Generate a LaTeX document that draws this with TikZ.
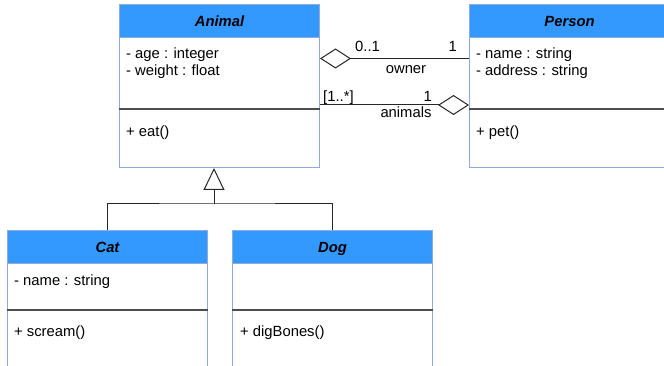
\documentclass[tikz,border=0pt]{standalone}
\usepackage{fontspec}
\setmainfont{Liberation Sans}
\usetikzlibrary{arrows.meta}
\definecolor{hdr}{HTML}{3399FF}
\definecolor{edge}{HTML}{8FAADC}
\definecolor{rulec}{HTML}{4D4D4D}
\begin{document}
\begin{tikzpicture}[x=1pt,y=-1pt,
  font=\fontsize{14.8}{18}\selectfont,
  classbox/.style={draw=edge, fill=white, line width=1pt, minimum width=200pt,
    minimum height=163pt, anchor=north west, inner sep=0pt},
  header/.style={draw=edge, fill=hdr, line width=1pt, minimum width=200pt,
    minimum height=33pt, anchor=north west, inner sep=0pt,
    text height=10.6pt, text depth=0pt,
    font=\fontsize{14.8}{18}\selectfont\bfseries\itshape},
  member/.style={anchor=base west, inner sep=0pt},
  sepline/.style={draw=rulec, line width=1.3pt},
  assoc/.style={draw=black!85, line width=1pt},
  lbl/.style={inner sep=0pt},
  aggr/.style={-{Diamond[open,length=31pt,width=20pt]}},
  gen/.style={-{Triangle[open,length=22pt,width=21pt]}}
]
\useasboundingbox (0,0) rectangle (664,366);
\clip (0,0) rectangle (664,366);

% Animal
\node[classbox] (animal) at (119,4) {};
\node[header] (animalH) at (animal.north west) {Animal};
\draw[sepline] (animal.west |- 0,109) -- (animal.east |- 0,109);
\node[member] (animalA1) at (126,58.5) {- age : integer};
\node[member] (animalA2) at (126,76) {- weight : float};
\node[member] (animalM1) at (126,137) {+ eat()};

% Person
\node[classbox] (person) at (469,4) {};
\node[header] (personH) at (person.north west) {Person};
\draw[sepline] (person.west |- 0,109) -- (person.east |- 0,109);
\node[member] (personA1) at (476,58.5) {- name : string};
\node[member] (personA2) at (476,76) {- address : string};
\node[member] (personM1) at (476,137) {+ pet()};

% Cat
\node[classbox] (cat) at (7,230) {};
\node[header] (catH) at (cat.north west) {Cat};
\draw[sepline] (cat.west |- 0,310) -- (cat.east |- 0,310);
\node[member] (catA1) at (14,285.5) {- name : string};
\node[member] (catM1) at (14,336.5) {+ scream()};

% Dog
\node[classbox] (dog) at (232,230) {};
\node[header] (dogH) at (dog.north west) {Dog};
\draw[sepline] (dog.west |- 0,310) -- (dog.east |- 0,310);
\node[member] (dogM1) at (240,336.5) {+ digBones()};

% owner aggregation
\draw[assoc, aggr] (person.west |- 0,58.5) -- (animal.east |- 0,58.5);
\node[lbl, anchor=base west] (ownMultA) at (355,52) {0..1};
\node[lbl, anchor=base east] (ownMultP) at (457,52) {1};
\node[lbl, anchor=base] (ownName) at (406,73.5) {owner};

% animals aggregation
\draw[assoc, aggr] (animal.east |- 0,105) -- (person.west |- 0,105);
\node[lbl, anchor=base west] (aniMultA) at (323,101.5) {[1..*]};
\node[lbl, anchor=base east] (aniMultP) at (432,101.5) {1};
\node[lbl, anchor=base] (aniName) at (406,118) {animals};

% generalisation
\coordinate (fork) at (214,204);
\draw[assoc] (cat.north) |- (fork) -| (dog.north);
\draw[assoc, gen] (fork) -- (fork |- animal.south);
\end{tikzpicture}
\end{document}
